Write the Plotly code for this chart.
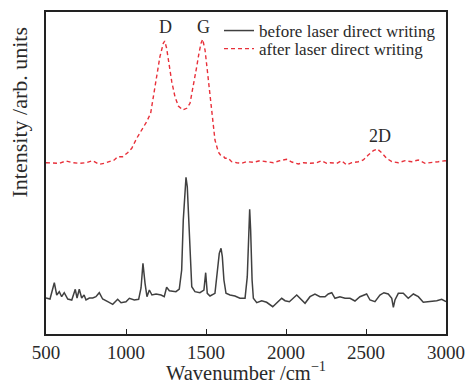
import plotly.graph_objects as go

# before laser direct writing (black)
wn_before = [500, 525, 552, 567, 583, 598, 614, 636, 661, 683, 694, 708, 723, 738, 750, 771, 792, 812, 833, 854,
             886, 917, 948, 969, 1000, 1021, 1052, 1079, 1094, 1106, 1119, 1131, 1146, 1162, 1188, 1219, 1239, 1254,
             1271, 1312, 1333, 1348, 1358, 1367, 1375, 1383, 1392, 1400, 1411, 1431, 1462, 1487, 1498, 1508, 1525,
             1556, 1571, 1583, 1594, 1602, 1612, 1625, 1650, 1681, 1712, 1744, 1758, 1767, 1773, 1779, 1788, 1796,
             1817, 1848, 1879, 1917, 1952, 1973, 1994, 2021, 2067, 2098, 2119, 2150, 2181, 2212, 2244, 2264, 2286,
             2306, 2337, 2369, 2400, 2431, 2462, 2504, 2525, 2556, 2587, 2612, 2639, 2661, 2671, 2681, 2702, 2733,
             2764, 2796, 2827, 2858, 2900, 2942, 2973, 3000]
int_before = [36, 35, 51.3, 39, 42.3, 37.3, 41.3, 35, 34, 44.7, 36, 44.7, 36, 39, 34, 36, 36, 37.3, 41.3, 35,
              32.3, 29.7, 34.7, 31.3, 32.3, 35.7, 34, 34.7, 46, 70.7, 50.7, 37.3, 44, 39, 40, 39, 37.3, 46.7,
              43.3, 42.3, 45, 64, 114, 144, 156.7, 147.3, 114, 70.7, 47.3, 42.3, 41.3, 44, 61.3, 40.7, 38,
              40.7, 64, 80.7, 85.7, 77.3, 54, 40.7, 39, 38, 35.7, 35.7, 57.3, 97.3, 124.7, 104, 54, 35.7,
              31.3, 33.3, 31.7, 27.3, 32.3, 35.7, 33.3, 32.3, 39, 34, 30.7, 37.3, 40, 37.3, 37.3, 40, 41.3,
              35.7, 37.3, 35.7, 35.7, 33, 37.3, 40, 34, 32.3, 39, 41.3, 40, 35.7, 26.7, 34, 40.7, 40.7,
              35.7, 40, 37.3, 31.7, 32.3, 33.3, 34.7, 32.3]

# after laser direct writing (red dashed)
wn_after = [500, 542, 583, 625, 667, 708, 750, 792, 812, 833, 864, 896, 927, 948, 979, 1010, 1036, 1067, 1098,
            1129, 1154, 1171, 1192, 1212, 1233, 1242, 1254, 1271, 1286, 1306, 1327, 1354, 1379, 1400, 1421, 1442,
            1456, 1469, 1479, 1494, 1508, 1525, 1542, 1556, 1577, 1590, 1608, 1619, 1639, 1660, 1692, 1723, 1754,
            1796, 1837, 1879, 1921, 1962, 2004, 2036, 2077, 2108, 2150, 2192, 2223, 2254, 2275, 2317, 2348, 2379,
            2411, 2452, 2483, 2514, 2546, 2571, 2598, 2629, 2661, 2702, 2744, 2786, 2827, 2869, 2911, 2952, 2994, 3000]
int_after = [171.3, 171.3, 170.7, 173, 171.3, 170.7, 171.3, 173.3, 171.3, 169.7, 170.7, 172.3, 174, 177.3, 177.3,
             181.3, 185.7, 195.7, 204, 212.3, 220.7, 237.3, 260.7, 277.3, 290.7, 293, 285.7, 267.3, 252.3, 237.3,
             228, 224, 225.7, 230.7, 247.3, 267.3, 280.7, 290.7, 294.7, 284, 264, 237.3, 210.7, 194, 182, 179,
             178, 175.7, 175.7, 172.3, 171.3, 170.7, 172.3, 171.7, 173.3, 172, 171.3, 173.3, 174.7, 172, 170,
             171.3, 170.7, 171.3, 173.3, 170.7, 171.3, 170.7, 173.3, 169, 171.3, 172.3, 174, 179, 183.3, 185,
             181.3, 175.7, 172.3, 171.3, 173.3, 172.3, 174, 170.7, 171.3, 172.3, 173.3, 173]

peak_labels = ["D", "G", "2D"]
peak_wn = [1244, 1487, 2588]
peak_y = [307, 307, 198]

x_ticks = [500, 1000, 1500, 2000, 2500, 3000]

FONT = "Liberation Serif"
TXT = "#2a2a2a"

fig = go.Figure()
fig.add_trace(go.Scatter(x=wn_before, y=int_before, mode="lines", name="before laser direct writing",
                         line=dict(color="#404040", width=1.5), legend="legend"))
fig.add_trace(go.Scatter(x=wn_after, y=int_after, mode="lines", name="after laser direct writing",
                         line=dict(color="#e8303a", width=1.4, dash="4px,3px"), legend="legend2"))

for lab, xv, yv in zip(peak_labels, peak_wn, peak_y):
    fig.add_annotation(x=xv, y=yv, text=lab, showarrow=False, xref="x", yref="y",
                       font=dict(family=FONT, size=18, color=TXT))

fig.add_annotation(text="Intensity /arb. units", textangle=-90, xref="paper", yref="paper",
                   x=-0.0675, y=0.688, xanchor="center", yanchor="middle", showarrow=False,
                   font=dict(family=FONT, size=22, color=TXT))

fig.update_xaxes(range=[500, 3000], tickvals=x_ticks, ticks="inside", ticklen=5, tickwidth=1.3,
                 tickcolor="#222", showline=True, linecolor="#222", linewidth=1.6, mirror=True,
                 showgrid=False, zeroline=False, ticklabeloverflow="allow", automargin=False,
                 tickfont=dict(family=FONT, size=19, color=TXT),
                 title=dict(text="Wavenumber /cm<sup>−1</sup>", font=dict(family=FONT, size=20.5, color=TXT),
                            standoff=6))
fig.update_yaxes(range=[0, 322], showticklabels=False, ticks="", showline=True, linecolor="#222",
                 linewidth=1.6, mirror=True, showgrid=False, zeroline=False, automargin=False)

leg_common = dict(xanchor="left", yanchor="middle", bgcolor="rgba(0,0,0,0)", itemwidth=30,
                  font=dict(family=FONT, size=17, color=TXT))
fig.update_layout(width=465, height=384, margin=dict(l=46, r=19, t=12, b=50, autoexpand=False),
                  plot_bgcolor="white", paper_bgcolor="white",
                  showlegend=True,
                  legend=dict(x=0.4325, y=0.941, **leg_common),
                  legend2=dict(x=0.4325, y=0.885, **leg_common))

fig.write_html("out.html")
